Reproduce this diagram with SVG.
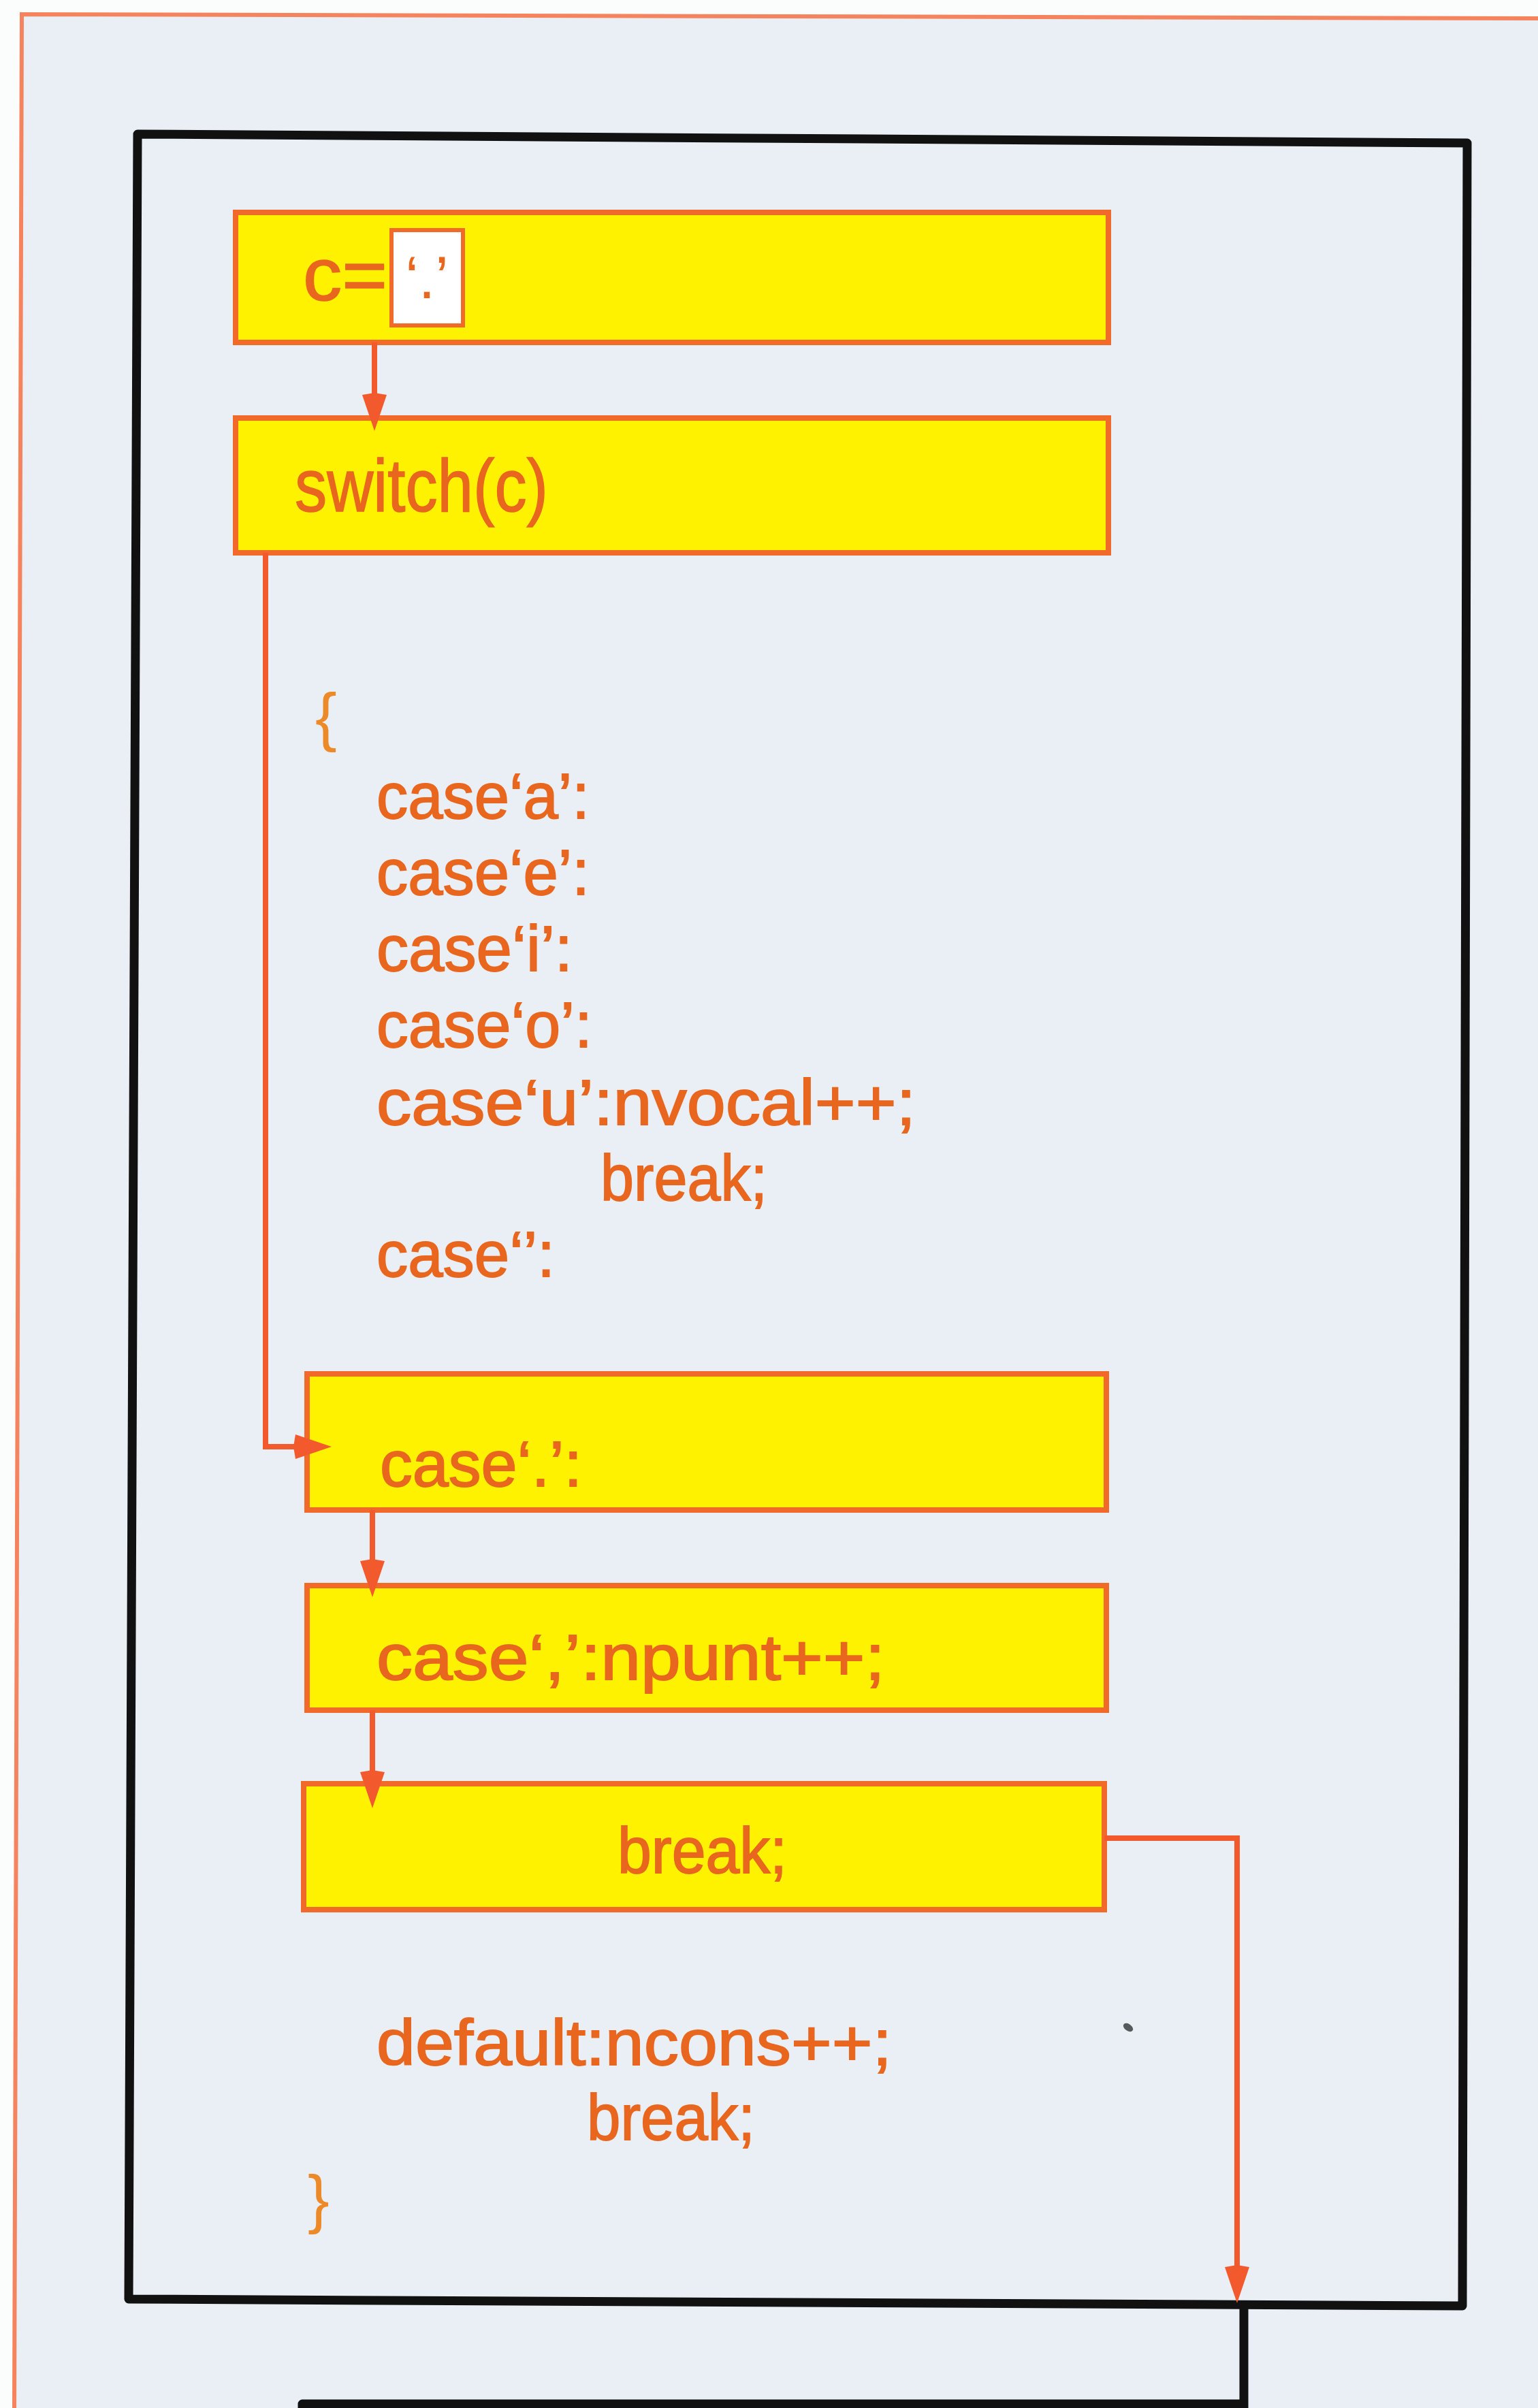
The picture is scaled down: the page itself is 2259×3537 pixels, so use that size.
<svg xmlns="http://www.w3.org/2000/svg" width="2259" height="3537" viewBox="0 0 2259 3537">
<defs>
<style>
.box{fill:#fff200;stroke:#f26a2a;stroke-width:8}
.slot{fill:#ffffff;stroke:#f26a2a;stroke-width:6}
.t{font-family:"Liberation Sans",Arial,sans-serif;font-size:95px;fill:#e8661e;stroke:#e8661e;stroke-width:1.8}
.tb{font-family:"Liberation Sans",Arial,sans-serif;font-size:110px;fill:#e8661e;stroke:#e8661e;stroke-width:1.5}
.br{font-family:"Liberation Sans",Arial,sans-serif;font-size:95px;fill:#ec8a2a}
.conn{fill:none;stroke:#f25a2e;stroke-width:8;stroke-linejoin:miter}
.frame{fill:none;stroke:#f4835e;stroke-width:6}
.blk{fill:none;stroke:#111111;stroke-width:13;stroke-linejoin:round}
</style>
<marker id="arr" markerUnits="userSpaceOnUse" viewBox="0 0 56 36" markerWidth="56" markerHeight="36" refX="26" refY="18" orient="auto">
<path d="M3,0 L56,18 L3,36 L0,18 Z" fill="#f25a2e"/>
</marker>
</defs>
<rect x="0" y="0" width="2259" height="3537" fill="#fbfdfd"/>
<polygon points="32,21 2259,27 2259,3537 21,3537" fill="#e9eff4"/>
<path class="frame" d="M21,3537 L32,21 L2259,27"/>
<g id="outer">
<polygon class="blk" points="202,197 2155,210 2148,3387 189,3377"/>
<path class="blk" d="M1827,3387 L1827,3545"/>
<path class="blk" d="M444,3545 L444,3531 L1827,3531"/>
</g>
<g id="n1">
<rect class="box" x="346" y="312" width="1282" height="191"/>
<text class="tb" x="445" y="441" textLength="124" lengthAdjust="spacingAndGlyphs">c=</text>
<rect class="slot" x="575" y="338" width="105" height="140"/>
<text class="t" x="627" y="438" text-anchor="middle" style="font-size:88px;stroke-width:0">‘.’</text>
</g>
<g id="n2">
<rect class="box" x="346" y="614" width="1282" height="198"/>
<text class="tb" x="433" y="751" textLength="372" lengthAdjust="spacingAndGlyphs">switch(c)</text>
</g>
<g id="code">
<text class="br" x="463" y="1085">{</text>
<text class="t" x="553" y="1202" textLength="313" lengthAdjust="spacingAndGlyphs">case‘a’:</text>
<text class="t" x="553" y="1314" textLength="313" lengthAdjust="spacingAndGlyphs">case‘e’:</text>
<text class="t" x="553" y="1426" textLength="288" lengthAdjust="spacingAndGlyphs">case‘i’:</text>
<text class="t" x="553" y="1538" textLength="317" lengthAdjust="spacingAndGlyphs">case‘o’:</text>
<text class="t" x="553" y="1652" textLength="792" lengthAdjust="spacingAndGlyphs">case‘u’:nvocal++;</text>
<text class="t" x="882" y="1763" textLength="245" lengthAdjust="spacingAndGlyphs">break;</text>
<text class="t" x="553" y="1875" textLength="262" lengthAdjust="spacingAndGlyphs">case‘’:</text>
</g>
<g id="n3">
<rect class="box" x="451" y="2018" width="1174" height="200"/>
<text class="t" x="558" y="2183" textLength="297" lengthAdjust="spacingAndGlyphs">case‘.’:</text>
</g>
<g id="n4">
<rect class="box" x="451" y="2329" width="1174" height="183"/>
<text class="t" x="553" y="2467" textLength="747" lengthAdjust="spacingAndGlyphs">case‘,’:npunt++;</text>
</g>
<g id="n5">
<rect class="box" x="446" y="2620" width="1176" height="185"/>
<text class="t" x="907" y="2751" textLength="249" lengthAdjust="spacingAndGlyphs">break;</text>
</g>
<g id="code2">
<text class="t" x="553" y="3033" textLength="757" lengthAdjust="spacingAndGlyphs">default:ncons++;</text>
<text class="t" x="862" y="3143" textLength="247" lengthAdjust="spacingAndGlyphs">break;</text>
<text class="br" x="452" y="3262">}</text>
</g>
<g id="connectors">
<path class="conn" d="M550,503 L550,603" marker-end="url(#arr)"/>
<path class="conn" d="M390,812 L390,2125 L457,2125" marker-end="url(#arr)"/>
<path class="conn" d="M547,2218 L547,2316" marker-end="url(#arr)"/>
<path class="conn" d="M547,2512 L547,2626" marker-end="url(#arr)"/>
<path class="conn" d="M1622,2700 L1817,2700 L1817,3353" marker-end="url(#arr)"/>
</g>
<ellipse cx="1657" cy="2978" rx="8" ry="5" transform="rotate(35 1657 2978)" fill="#555a5c"/>
</svg>
